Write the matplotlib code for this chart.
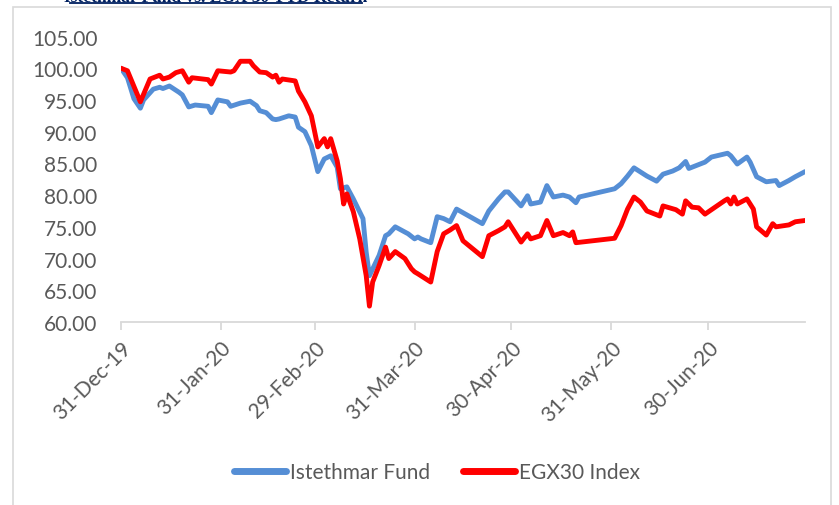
import pandas as pd
import matplotlib
matplotlib.use('Agg')
import matplotlib.pyplot as plt
import matplotlib.dates as mdates
from matplotlib.patches import Rectangle
from matplotlib.lines import Line2D

# Istethmar Fund (rebased to 100)
fund_dates = ['2019-12-31', '2020-01-02', '2020-01-04', '2020-01-06', '2020-01-07', '2020-01-10',
              '2020-01-12', '2020-01-13', '2020-01-15', '2020-01-18', '2020-01-19', '2020-01-21',
              '2020-01-23', '2020-01-27', '2020-01-28', '2020-01-30', '2020-02-02', '2020-02-03',
              '2020-02-06', '2020-02-09', '2020-02-11', '2020-02-12', '2020-02-14', '2020-02-16',
              '2020-02-17', '2020-02-18', '2020-02-21', '2020-02-23', '2020-02-24', '2020-02-26',
              '2020-02-28', '2020-03-01', '2020-03-03', '2020-03-05', '2020-03-07', '2020-03-08',
              '2020-03-10', '2020-03-12', '2020-03-15', '2020-03-16', '2020-03-17', '2020-03-20',
              '2020-03-22', '2020-03-23', '2020-03-25', '2020-03-29', '2020-03-31', '2020-04-01',
              '2020-04-02', '2020-04-05', '2020-04-07', '2020-04-09', '2020-04-11', '2020-04-13',
              '2020-04-21', '2020-04-23', '2020-04-26', '2020-04-28', '2020-04-29', '2020-05-03',
              '2020-05-05', '2020-05-06', '2020-05-09', '2020-05-11', '2020-05-13', '2020-05-16',
              '2020-05-18', '2020-05-20', '2020-05-21', '2020-06-01', '2020-06-03', '2020-06-05',
              '2020-06-07', '2020-06-11', '2020-06-14', '2020-06-16', '2020-06-19', '2020-06-21',
              '2020-06-23', '2020-06-24', '2020-06-29', '2020-07-01', '2020-07-06', '2020-07-07',
              '2020-07-09', '2020-07-12', '2020-07-13', '2020-07-15', '2020-07-18', '2020-07-21',
              '2020-07-22', '2020-07-25', '2020-07-27', '2020-07-30']
fund_values = [100.0, 98.5, 95.2, 93.7, 95.0, 96.7,
               97.0, 96.8, 97.2, 96.2, 95.8, 93.9,
               94.2, 94.0, 93.0, 95.0, 94.7, 94.0,
               94.5, 94.8, 94.1, 93.3, 93.0, 92.0,
               91.9, 92.0, 92.5, 92.3, 90.7, 90.0,
               87.8, 83.7, 85.7, 86.2, 84.4, 81.0,
               81.3, 79.4, 76.3, 71.0, 67.3, 70.5,
               73.6, 73.9, 75.0, 73.9, 73.1, 73.4,
               73.1, 72.5, 76.6, 76.3, 75.8, 77.8,
               75.5, 77.5, 79.4, 80.5, 80.5, 78.3,
               79.9, 78.6, 78.9, 81.5, 79.7, 80.0,
               79.7, 78.8, 79.7, 81.0, 81.8, 83.0,
               84.3, 83.0, 82.2, 83.3, 83.8, 84.3,
               85.3, 84.2, 85.2, 86.0, 86.6, 86.2,
               84.9, 86.0, 85.2, 82.9, 82.1, 82.3,
               81.5, 82.3, 82.9, 83.7]

# EGX30 Index (rebased to 100)
egx_dates = ['2019-12-31', '2020-01-02', '2020-01-06', '2020-01-09', '2020-01-12', '2020-01-13',
             '2020-01-15', '2020-01-17', '2020-01-19', '2020-01-21', '2020-01-22', '2020-01-27',
             '2020-01-28', '2020-01-30', '2020-02-03', '2020-02-04', '2020-02-06', '2020-02-09',
             '2020-02-10', '2020-02-12', '2020-02-14', '2020-02-16', '2020-02-17', '2020-02-18',
             '2020-02-19', '2020-02-23', '2020-02-24', '2020-02-26', '2020-02-28', '2020-03-01',
             '2020-03-03', '2020-03-04', '2020-03-05', '2020-03-07', '2020-03-08', '2020-03-09',
             '2020-03-10', '2020-03-12', '2020-03-14', '2020-03-16', '2020-03-17', '2020-03-18',
             '2020-03-20', '2020-03-22', '2020-03-23', '2020-03-25', '2020-03-28', '2020-03-30',
             '2020-03-31', '2020-04-01', '2020-04-05', '2020-04-07', '2020-04-09', '2020-04-11',
             '2020-04-13', '2020-04-15', '2020-04-21', '2020-04-23', '2020-04-26', '2020-04-28',
             '2020-04-29', '2020-05-03', '2020-05-05', '2020-05-06', '2020-05-09', '2020-05-11',
             '2020-05-13', '2020-05-16', '2020-05-18', '2020-05-19', '2020-05-20', '2020-06-01',
             '2020-06-03', '2020-06-05', '2020-06-07', '2020-06-09', '2020-06-11', '2020-06-15',
             '2020-06-16', '2020-06-20', '2020-06-22', '2020-06-23', '2020-06-25', '2020-06-27',
             '2020-06-29', '2020-07-05', '2020-07-06', '2020-07-07', '2020-07-08', '2020-07-09',
             '2020-07-12', '2020-07-14', '2020-07-15', '2020-07-18', '2020-07-20', '2020-07-21',
             '2020-07-25', '2020-07-27', '2020-07-30']
egx_values = [100.0, 99.6, 94.7, 98.3, 98.9, 98.3,
              98.6, 99.3, 99.6, 97.8, 98.5, 98.2,
              97.5, 99.6, 99.4, 99.6, 101.1, 101.1,
              100.4, 99.4, 99.3, 98.6, 98.9, 97.8,
              98.3, 98.0, 96.4, 94.7, 92.5, 87.6,
              88.9, 87.6, 88.9, 85.4, 82.6, 78.6,
              80.2, 77.4, 73.1, 67.3, 62.5, 66.3,
              68.9, 71.8, 70.0, 71.1, 70.0, 68.4,
              67.9, 67.6, 66.3, 71.1, 73.9, 74.5,
              75.2, 72.8, 70.3, 73.6, 74.4, 75.0,
              75.8, 72.6, 73.9, 73.1, 73.6, 76.0,
              73.6, 74.1, 73.6, 74.2, 72.5, 73.2,
              75.2, 77.8, 79.7, 78.9, 77.5, 76.7,
              78.3, 77.7, 77.0, 79.1, 78.1, 78.0,
              77.0, 79.1, 79.4, 78.6, 79.7, 78.6,
              79.4, 77.8, 75.0, 73.7, 75.5, 75.0,
              75.3, 75.8, 76.0]

tick_dates = ['2019-12-31', '2020-01-31', '2020-02-29', '2020-03-31',
              '2020-04-30', '2020-05-31', '2020-06-30']
y_ticks = [60, 65, 70, 75, 80, 85, 90, 95, 100, 105]

W, H = 839, 506
grey = '#595959'
plt.rcParams['font.family'] = ['Lato', 'DejaVu Sans']

fig = plt.figure(figsize=(W / 100, H / 100), dpi=100)

# chart area border
fig.patches.append(Rectangle((13 / W, -0.1), (831 - 13) / W, 1.1 - 8 / H,
                             transform=fig.transFigure, fill=False,
                             edgecolor='#D9D9D9', lw=1.2))

ax = fig.add_axes([121 / W, 1 - 323 / H, (805 - 121) / W, (323 - 37.5) / H])

ax.plot(pd.to_datetime(fund_dates), fund_values, color='#558ED5', lw=3.5,
        solid_joinstyle='round', solid_capstyle='round', label='Istethmar Fund')
ax.plot(pd.to_datetime(egx_dates), egx_values, color='#FF0000', lw=3.5,
        solid_joinstyle='round', solid_capstyle='round', label='EGX30 Index')

ax.set_xlim(pd.Timestamp('2019-12-31'), pd.Timestamp('2020-07-30'))
ax.set_ylim(60, 105)
ax.set_yticks(y_ticks)
ax.set_yticklabels(['%.2f' % v for v in y_ticks])
ax.set_xticks(pd.to_datetime(tick_dates))
ax.xaxis.set_major_formatter(mdates.DateFormatter('%d-%b-%y'))

for s in ['top', 'right', 'left']:
    ax.spines[s].set_visible(False)
ax.spines['bottom'].set_color('#D9D9D9')
ax.spines['bottom'].set_linewidth(1.3)

ax.tick_params(axis='y', length=0, pad=17, labelsize=15, labelcolor=grey)
ax.tick_params(axis='x', length=6, width=1.3, color='#D9D9D9', pad=5,
               labelsize=15, labelcolor=grey)
for lbl in ax.get_xticklabels():
    lbl.set_rotation(45)
    lbl.set_ha('right')
    lbl.set_rotation_mode('anchor')

handles = [Line2D([], [], color='#558ED5', lw=5, solid_capstyle='round'),
           Line2D([], [], color='#FF0000', lw=5, solid_capstyle='round')]
fig.legend(handles, ['Istethmar Fund', 'EGX30 Index'], loc='center',
           bbox_to_anchor=(437 / W, 1 - 473 / H), ncol=2, frameon=False,
           fontsize=15, labelcolor=grey, handlelength=2.5, handletextpad=0.2,
           columnspacing=1.6)

# title, mostly cut off at the top of the picture as in the source
fig.text(216 / W, 1 - 1.5 / H, 'Istethmar Fund vs. EGX 30 YTD Return',
         ha='center', va='baseline', fontsize=12.5, fontweight='bold',
         color='#002060', family=['Liberation Serif', 'DejaVu Serif'])
fig.add_artist(Line2D([70 / W, 362 / W], [1 - 3.8 / H, 1 - 3.8 / H],
                      transform=fig.transFigure, color='#002060', lw=1.3))

fig.savefig('out.png', dpi=100)
